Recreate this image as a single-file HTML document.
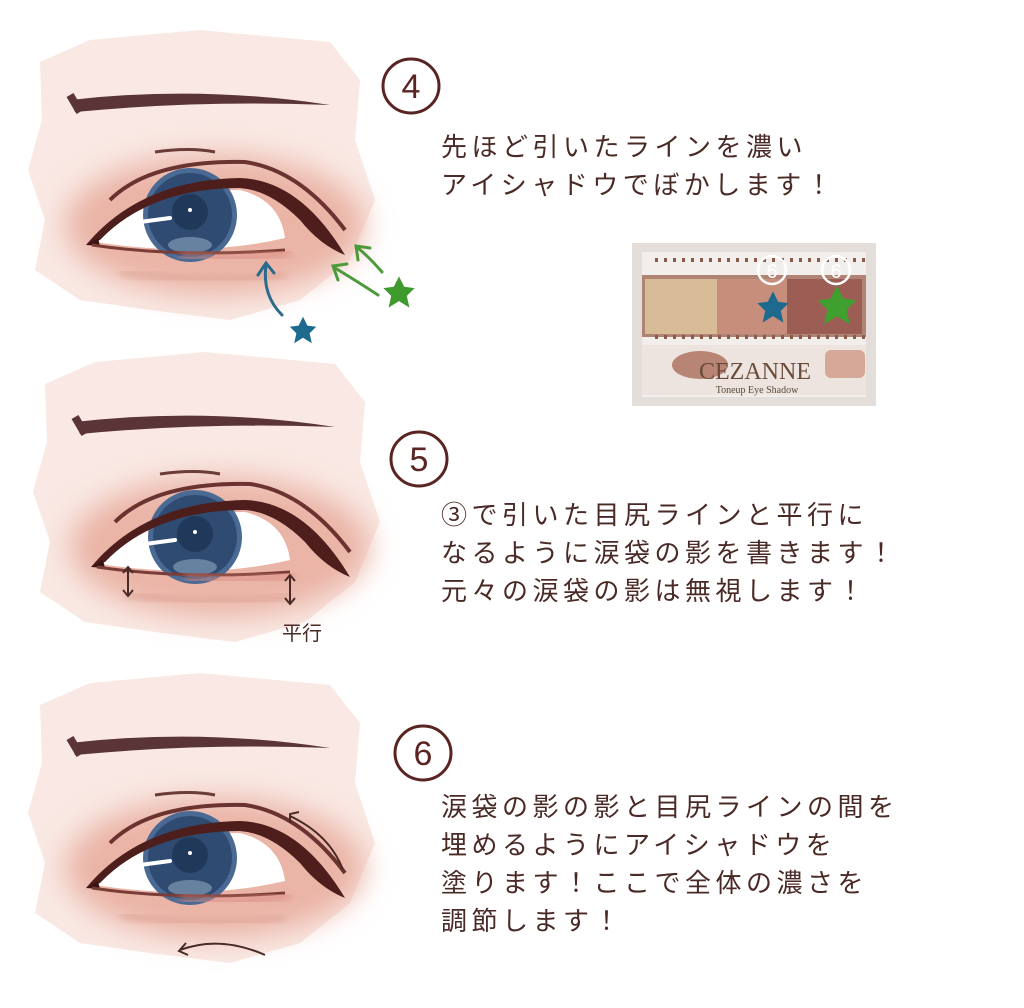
<!DOCTYPE html>
<html><head><meta charset="utf-8"><style>
body{margin:0;background:#fff;width:1024px;height:1008px;overflow:hidden;position:relative;font-family:"Liberation Sans","Noto Sans CJK JP",sans-serif}
.t{position:absolute;color:#4a2a26;font-size:26px;letter-spacing:4.5px;line-height:38px;white-space:nowrap}
</style></head><body>
<svg width="1024" height="1008" style="position:absolute;left:0;top:0">
<defs>
<filter id="bl" x="-30%" y="-30%" width="160%" height="160%"><feGaussianBlur stdDeviation="14"/></filter>
<filter id="bl2"><feGaussianBlur stdDeviation="4"/></filter>
<g id="eye">
<path d="M40,62 L90,40 L200,30 L330,42 L360,80 L355,140 L375,200 L350,260 L300,300 L230,320 L150,310 L80,300 L35,270 L45,220 L28,170 L42,120 Z" fill="#f9e8e3"/>
<ellipse cx="215" cy="225" rx="150" ry="70" fill="#eab4a6" filter="url(#bl)"/>
<path d="M70,100 Q200,85 330,105 Q200,100 75,112 Z" fill="#5a3436"/>
<path d="M70,95 L80,112" stroke="#5a3436" stroke-width="8"/>
<path d="M155,152 Q190,147 215,152" stroke="#6b3c38" stroke-width="3" fill="none"/>
<path d="M110,200 Q150,160 245,162 Q300,170 345,230" stroke="#6b3330" stroke-width="4" fill="none"/>
<path d="M95,240 Q150,190 240,190 Q280,200 285,238 Q200,258 95,242 Z" fill="#fff"/>
<circle cx="190" cy="215" r="47" fill="#4a6a94"/>
<circle cx="190" cy="215" r="42" fill="#2f4b72"/>
<circle cx="190" cy="212" r="18" fill="#20385a"/>
<ellipse cx="190" cy="245" rx="22" ry="8" fill="#8ea6c0" opacity=".6"/>
<path d="M140,222 L170,218" stroke="#fff" stroke-width="4" stroke-linecap="round"/>
<circle cx="190" cy="210" r="2" fill="#fff"/>
<path d="M86,245 Q140,180 240,178 Q300,180 345,255 Q320,245 300,220 Q270,190 240,188 Q150,188 100,240 Z" fill="#4d1e1c"/>
<path d="M86,245 L98,238 L100,246 Z" fill="#3a1414"/>
<path d="M92,245 Q180,258 285,250" stroke="#7a3c36" stroke-width="3" fill="none"/>
<path d="M180,256 Q240,262 290,252" stroke="#d98b80" stroke-width="5" fill="none" filter="url(#bl2)"/>
<path d="M120,272 Q200,285 285,275" stroke="#d99c8e" stroke-width="4" fill="none" filter="url(#bl2)"/>
</g>
<path id="star" d="M0,-12 L4,-4 L12,-3 L6,3 L8,12 L0,7 L-8,12 L-6,3 L-12,-3 L-4,-4 Z"/>
</defs>
<use href="#eye"/>
<use href="#eye" transform="translate(5,322)"/>
<use href="#eye" transform="translate(0,643)"/>
<g fill="none" stroke-linecap="round" stroke-width="3">
<path d="M282,315 Q262,295 266,265 M258,275 L266,263 L274,273" stroke="#2a6a8a"/>
<path d="M378,295 Q355,280 335,268 M338,280 L333,266 L347,264" stroke="#4c9a3a"/>
<path d="M382,272 Q370,258 358,248 M358,260 L356,246 L370,248" stroke="#4c9a3a"/>
</g>
<use href="#star" transform="translate(303,330) scale(1.1)" fill="#1d6a8e"/>
<use href="#star" transform="translate(399,292) scale(1.3)" fill="#3f9a2e"/>
<g stroke="#4a2a26" stroke-width="2" fill="none">
<path d="M128,568 V595 M123,573 L128,567 L133,573 M123,590 L128,596 L133,590"/>
<path d="M290,576 V604 M285,581 L290,575 L295,581 M285,598 L290,604 L295,598"/>
<path d="M290,816 Q330,835 343,870 M290,823 L290,814 L299,812"/>
<path d="M265,955 Q220,935 180,950 M186,943 L179,951 L188,955"/>
</g>
<text x="282" y="640" font-size="20" fill="#4a2a26" font-family="Liberation Sans,Noto Sans CJK JP,sans-serif">平行</text>
<g fill="none" stroke="#5a2422" stroke-width="3">
<ellipse cx="411" cy="86" rx="28" ry="27"/>
<ellipse cx="419" cy="459" rx="28" ry="27"/>
<ellipse cx="423" cy="753" rx="28" ry="27"/>
</g>
<g fill="#5a2422" font-size="34" font-family="Liberation Sans,sans-serif" text-anchor="middle">
<text x="411" y="98">4</text><text x="419" y="471">5</text><text x="423" y="765">6</text>
</g>
<rect x="632" y="243" width="244" height="163" fill="#e4dedb"/>
<rect x="642" y="252" width="224" height="145" fill="#f2eeec"/>
<rect x="642" y="275" width="224" height="62" fill="#b08474"/>
<rect x="645" y="279" width="72" height="55" fill="#d8bc98"/>
<rect x="717" y="279" width="70" height="55" fill="#c88e7c"/>
<rect x="787" y="279" width="75" height="55" fill="#9c5e54"/>
<path d="M655,260 H865 M655,337 H865" stroke="#8a5a4a" stroke-width="4" stroke-dasharray="3,6"/>
<rect x="642" y="345" width="224" height="50" fill="#ede4df"/>
<ellipse cx="700" cy="365" rx="28" ry="14" fill="#b88474"/>
<rect x="825" y="350" width="40" height="28" rx="6" fill="#d6a898"/>
<text x="755" y="379" font-size="24" fill="#6a4a3a" text-anchor="middle" font-family="Liberation Serif,serif">CEZANNE</text>
<text x="757" y="393" font-size="10" fill="#5a4a3a" text-anchor="middle" font-family="Liberation Serif,serif">Toneup Eye Shadow</text>
<g fill="none" stroke="#fff" stroke-width="2.5"><circle cx="772" cy="270" r="14"/><circle cx="836" cy="270" r="14"/></g>
<g fill="#fff" font-size="20" text-anchor="middle"><text x="772" y="278">6</text><text x="836" y="278">6</text></g>
<use href="#star" transform="translate(773,307) scale(1.3)" fill="#1d6a8e"/>
<use href="#star" transform="translate(837,305) scale(1.6)" fill="#3fa030"/>
</svg>
<div class="t" style="left:441px;top:128px">先ほど引いたラインを濃い<br>アイシャドウでぼかします！</div>
<div class="t" style="left:441px;top:496px">③で引いた目尻ラインと平行に<br>なるように涙袋の影を書きます！<br>元々の涙袋の影は無視します！</div>
<div class="t" style="left:441px;top:788px">涙袋の影の影と目尻ラインの間を<br>埋めるようにアイシャドウを<br>塗ります！ここで全体の濃さを<br>調節します！</div>
</body></html>
